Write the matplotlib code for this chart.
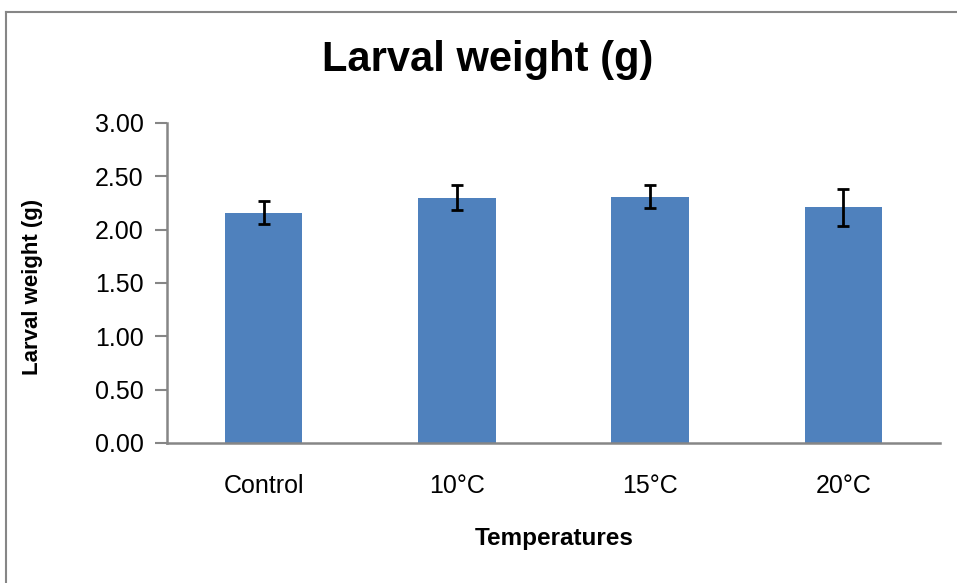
import matplotlib
matplotlib.use("Agg")
import matplotlib.pyplot as plt
from matplotlib.lines import Line2D
from matplotlib import font_manager

categories = ["Control", "10°C", "15°C", "20°C"]
means = [2.16, 2.30, 2.31, 2.21]
errors = [0.105, 0.115, 0.105, 0.175]
yticks = [0.0, 0.5, 1.0, 1.5, 2.0, 2.5, 3.0]

names = {f.name for f in font_manager.fontManager.ttflist}
narrow = "Liberation Sans Narrow" if "Liberation Sans Narrow" in names else None
reg = "Liberation Sans"

W, H = 957, 583
fig = plt.figure(figsize=(W / 100, H / 100), dpi=100)
ax = fig.add_axes([167 / W, 1 - 443 / H, (940 - 167) / W, (443 - 123) / H])

x = range(len(categories))
ax.bar(x, means, width=0.4, color="#4F81BD", zorder=2)
ax.errorbar(x, means, yerr=errors, fmt="none", ecolor="black",
            elinewidth=2, capsize=4.3, capthick=2, zorder=3)

ax.set_xlim(-0.5, 3.5)
ax.set_ylim(0, 3.0)
ax.set_yticks(yticks)
ax.set_yticklabels([f"{v:.2f}" for v in yticks], fontsize=18, family=reg)
ax.set_xticks(list(x))
ax.set_xticklabels(categories, fontsize=18, family=reg)
ax.tick_params(axis="x", length=0, pad=22)
ax.tick_params(axis="y", length=9, width=1.5, color="#868686", pad=8, direction="out")

for s in ["top", "right"]:
    ax.spines[s].set_visible(False)
for s in ["left", "bottom"]:
    ax.spines[s].set_color("#868686")
    ax.spines[s].set_linewidth(1.8)

if narrow:
    fig.text(488 / W, 1 - 60 / H, "Larval weight (g)", ha="center", va="center",
             fontsize=36, fontweight="bold", family=narrow)
else:
    fig.text(488 / W, 1 - 60 / H, "Larval weight (g)", ha="center", va="center",
             fontsize=30, fontweight="bold", family=reg)
fig.text(554 / W, 1 - 538 / H, "Temperatures", ha="center", va="center",
         fontsize=17.5, fontweight="bold", family=reg)
fig.text(33 / W, 1 - 287 / H, "Larval weight (g)", ha="center", va="center",
         rotation=90, fontsize=16, fontweight="bold", family=reg)

# chart area border (top and left visible)
fig.add_artist(Line2D([6 / W, 1.0], [1 - 12 / H, 1 - 12 / H], transform=fig.transFigure,
                      color="#868686", lw=1.5))
fig.add_artist(Line2D([6 / W, 6 / W], [0, 1 - 12 / H], transform=fig.transFigure,
                      color="#868686", lw=1.5))

fig.savefig("out.png", dpi=100)
